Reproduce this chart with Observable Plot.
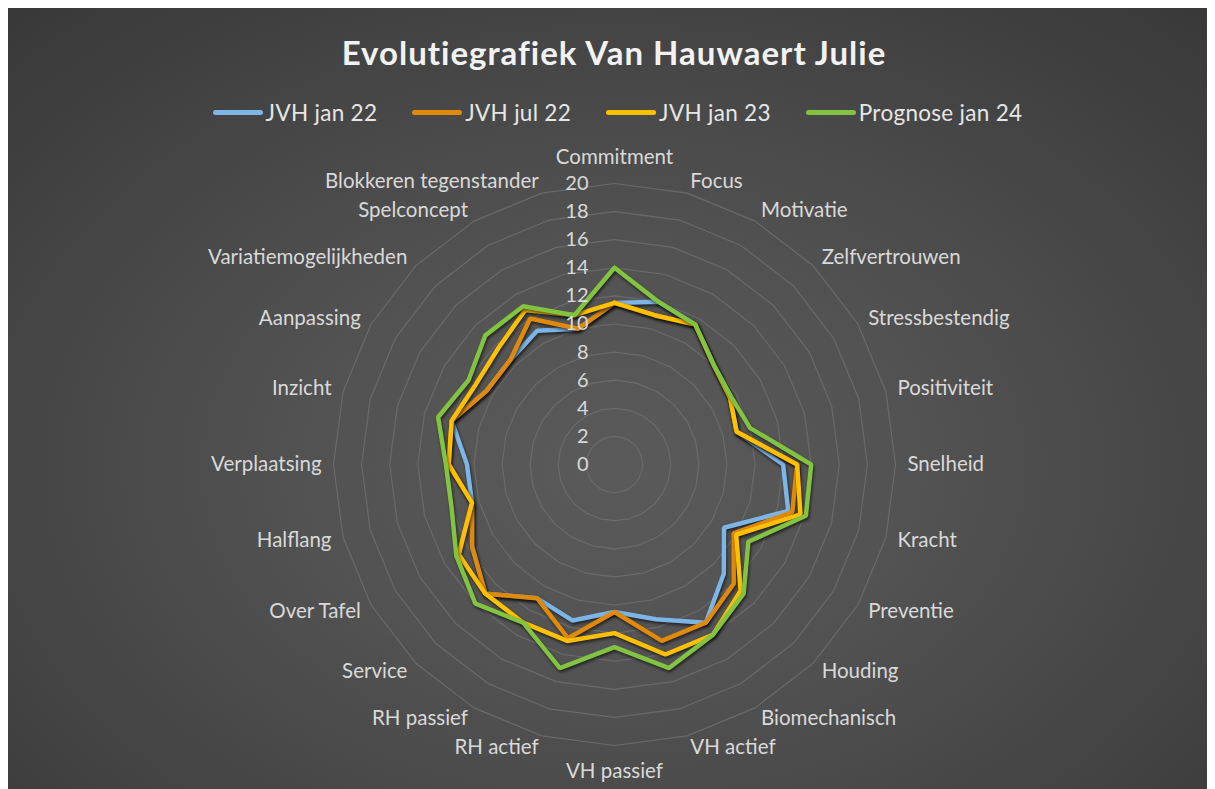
<!DOCTYPE html>
<html>
<head>
<meta charset="utf-8">
<script src="https://cdn.jsdelivr.net/npm/d3@7"></script>
<script src="https://cdn.jsdelivr.net/npm/@observablehq/plot@0.6"></script>
<style>
  html, body { margin: 0; padding: 0; background: #ffffff; }
  #chart {
    position: absolute; left: 8px; top: 8px; width: 1199px; height: 790px; overflow: hidden;
    background: radial-gradient(ellipse 75% 80% at 50.5% 58%, #5a5a5a 0%, #525252 35%, #444444 70%, #383838 100%);
    font-family: Lato, "Open Sans", sans-serif;
  }
  #title {
    height: 88px; line-height: 88px; text-align: center; color: #f2f2f2;
    font-size: 33px; font-weight: bold; padding-left: 13px; letter-spacing: 1px;
  }
  #legend {
    height: 32px; display: flex; justify-content: center; align-items: center;
    gap: 35px; padding-left: 20px; color: #e6e6e6; font-size: 22.5px; letter-spacing: 0.3px;
  }
  .item { display: flex; align-items: center; }
  .sw { width: 50px; height: 5px; border-radius: 3px; margin-right: 3px; }
  svg { display: block; }
  svg text.cat { letter-spacing: 0.5px; }
</style>
</head>
<body>
<div id="chart">
  <div id="title"></div>
  <div id="legend"></div>
  <div id="plot"></div>
</div>
<script>
const titleText = "Evolutiegrafiek Van Hauwaert Julie";
const categories = ["Commitment","Focus","Motivatie","Zelfvertrouwen","Stressbestendig","Positiviteit","Snelheid","Kracht","Preventie","Houding","Biomechanisch","VH actief","VH passief","RH actief","RH passief","Service","Over Tafel","Halflang","Verplaatsing","Inzicht","Aanpassing","Variatiemogelijkheden","Spelconcept","Blokkeren tegenstander"];
const seriesNames = ["JVH jan 22","JVH jul 22","JVH jan 23","Prognose jan 24"];
const seriesColors = ["#7cb5e6","#e08a0b","#ffc000","#82c341"];
const jan22  = [11.5, 12, 11.5, 10, 9.5, 9, 12, 12.8, 9, 11, 13, 11.4, 10.5, 11.5, 11, 13, 11.7, 10.5, 10.5, 12, 10.5, 10.5, 11, 10];
const jul22  = [11.5, 11, 11.5, 10, 9.5, 9, 13, 13.1, 9.8, 12, 13, 13, 10.5, 12.8, 11, 13, 11.7, 10.5, 11.8, 12, 10.5, 10.5, 12, 10];
const jan23  = [11.5, 11, 11.5, 10, 9.5, 9, 13, 13.7, 10, 12.7, 14, 14, 12, 13, 13, 13, 12.8, 10.5, 11.8, 12, 11.4, 11.7, 12.7, 11];
const prog24 = [14, 12, 11.5, 10, 9.6, 10, 14, 14.1, 11, 13, 14, 15, 13, 15, 13, 14, 13, 12, 12, 13, 12, 13, 13, 11];
const ticks = [0, 2, 4, 6, 8, 10, 12, 14, 16, 18, 20];

// title + legend
document.getElementById("title").textContent = titleText;
const legend = d3.select("#legend");
seriesNames.forEach((s, k) => {
  const it = legend.append("div").attr("class", "item");
  it.append("div").attr("class", "sw").style("background", seriesColors[k]);
  it.append("span").text(s);
});

const n = categories.length;
const ang = i => i * 2 * Math.PI / n;
const px = (v, i) => v * Math.sin(ang(i));
const py = (v, i) => v * Math.cos(ang(i));
const maxT = d3.max(ticks);

const seriesVals = [jan22, jul22, jan23, prog24];
const rows = seriesNames.flatMap((s, k) =>
  d3.range(n + 1).map(j => ({series: s, i: j % n, v: seriesVals[k][j % n]})));
const rings = ticks.filter(t => t > 0).flatMap(t =>
  d3.range(n + 1).map(j => ({t, i: j % n})));
const labels = categories.map((c, i) => ({c, i}));
const labR = maxT + 0.85;

const u = 14.05, cx = 606, cy = 336, R = 22;
const W = 1199, H = 670;
const font = "Lato, 'Open Sans', sans-serif";

const lab = (filter, anchor, dy) => Plot.text(labels.filter(filter), {
  x: d => px(labR, d.i), y: d => py(labR, d.i), text: "c", className: "cat",
  textAnchor: anchor, dy, fill: "#d9d9d9", fontSize: 20.5, fontFamily: font
});

const chart = Plot.plot({
  width: W, height: H,
  x: {domain: [-R, R], range: [cx - R * u, cx + R * u], axis: null},
  y: {domain: [-R, R], range: [cy + R * u, cy - R * u], axis: null},
  color: {domain: seriesNames, range: seriesColors},
  style: {background: "transparent", overflow: "visible"},
  marks: [
    Plot.line(rings, {x: d => px(d.t, d.i), y: d => py(d.t, d.i), z: "t", stroke: "#6a6a6a", strokeWidth: 1.2}),
    Plot.line(rows, {x: d => px(d.v, d.i), y: d => py(d.v, d.i), z: "series", stroke: "series", strokeWidth: 4.5, strokeLinejoin: "miter"}),
    Plot.text(ticks, {x: () => 0, y: d => d, text: d => String(d), textAnchor: "end", dx: -26, fill: "#d9d9d9", fontSize: 20, fontFamily: font}),
    lab(d => d.i > 0 && d.i < n / 2, "start", 0),
    lab(d => d.i > n / 2, "end", 0),
    lab(d => d.i === 0, "middle", -14),
    lab(d => d.i === n / 2, "middle", 14)
  ]
});
document.getElementById("plot").appendChild(chart);
d3.select(chart).selectAll("g[aria-label='line']").filter((d, k) => k === 1)
  .selectAll("path").style("filter", "drop-shadow(1.5px 2.5px 1.5px rgba(0,0,0,0.6))");
</script>
</body>
</html>
